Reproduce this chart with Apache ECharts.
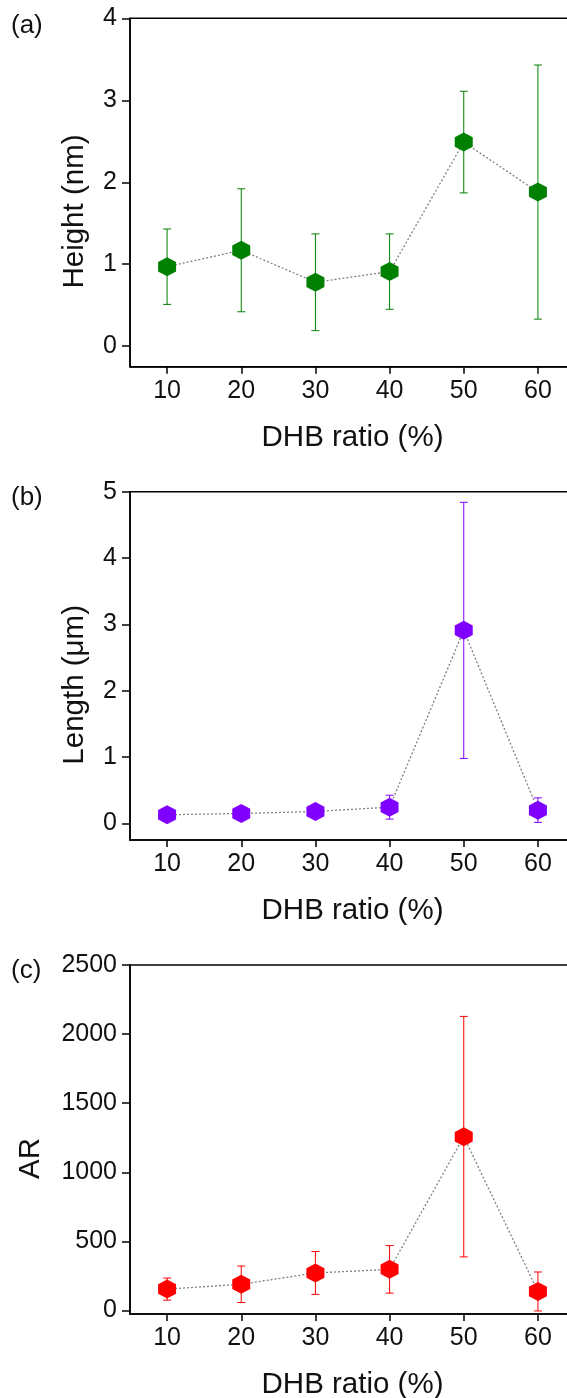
<!DOCTYPE html>
<html>
<head>
<meta charset="utf-8">
<script src="https://cdn.jsdelivr.net/npm/echarts@6/dist/echarts.min.js"></script>
<style>
  html, body { margin: 0; padding: 0; background: #fff; }
  #chart { width: 567px; height: 1398px; }
</style>
</head>
<body>
<div id="chart"></div>
<script>
// DHB ratio (%) on the shared x axis
const ratios = [10, 20, 30, 40, 50, 60];
const ratioTicks = [10, 20, 30, 40, 50, 60];

// (a) height (nm), mean and error
const heightNm = [0.97, 1.17, 0.78, 0.91, 2.49, 1.88];
const heightErr = [0.46, 0.75, 0.59, 0.46, 0.62, 1.55];
const heightTicks = [0, 1, 2, 3, 4];
const heightMinor = [0.5, 1.5, 2.5, 3.5];

// (b) length (µm), mean and error
const lengthUm = [0.13, 0.15, 0.18, 0.245, 2.91, 0.2];
const lengthErr = [0.06, 0.06, 0.06, 0.18, 1.93, 0.185];
const lengthTicks = [0, 1, 2, 3, 4, 5];
const lengthMinor = [0.5, 1.5, 2.5, 3.5, 4.5];

// (c) aspect ratio, mean and error
const aspectRatio = [155, 190, 272, 298, 1258, 138];
const aspectErr = [80, 132, 155, 172, 870, 141];
const arTicks = [0, 500, 1000, 1500, 2000, 2500];
const arMinor = [250, 750, 1250, 1750, 2250];

const FONT = "'Liberation Sans', Arial, sans-serif";
const HEX = 'path://M0,-1L0.866,-0.5L0.866,0.5L0,1L-0.866,0.5L-0.866,-0.5Z';

const panels = [
  { tag: '(a)', name: 'Height (nm)', vals: heightNm, errs: heightErr, ticks: heightTicks, minor: heightMinor,
    min: -0.25, max: 4, color: '#008000', top: 18.3, height: 348.4, nameGap: 40, tagTop: 13 },
  { tag: '(b)', name: 'Length (\u03bcm)', vals: lengthUm, errs: lengthErr, ticks: lengthTicks, minor: lengthMinor,
    min: -0.25, max: 5, color: '#7f00ff', top: 491.7, height: 348.3, nameGap: 40, tagTop: 484.5 },
  { tag: '(c)', name: 'AR', vals: aspectRatio, errs: aspectErr, ticks: arTicks, minor: arMinor,
    min: -25, max: 2500, color: '#ff0000', top: 965, height: 349, nameGap: 84, tagTop: 957.7 }
];

const axisLine = { show: true, onZero: false, lineStyle: { color: '#000', width: 1.5 } };

const option = {
  animation: false,
  backgroundColor: '#fff',
  title: panels.map(p => ({
    text: p.tag, left: 11, top: p.tagTop, padding: 0,
    textStyle: { fontFamily: FONT, fontSize: 26, fontWeight: 'normal', color: '#111' }
  })),
  // the frame runs past the right edge of the page, so only three sides show
  grid: panels.map(p => ({
    left: 130, width: 445, top: p.top, height: p.height,
    outerBoundsMode: 'none', containLabel: false,
    show: true, borderColor: '#000', borderWidth: 1.5, backgroundColor: 'transparent'
  })),
  xAxis: panels.map((p, i) => ({
    type: 'value', gridIndex: i, min: 5, max: 65,
    name: 'DHB ratio (%)', nameLocation: 'middle', nameGap: 56,
    nameTextStyle: { fontFamily: FONT, fontSize: 29.5, color: '#111' },
    axisLine,
    axisTick: { show: true, inside: false, length: 7, customValues: ratioTicks,
      lineStyle: { color: '#000', width: 1.5 } },
    axisLabel: { show: true, margin: 12, customValues: ratioTicks,
      fontFamily: FONT, fontSize: 25, color: '#111' },
    splitLine: { show: false }
  })),
  yAxis: panels.flatMap((p, i) => [
    {
      type: 'value', gridIndex: i, min: p.min, max: p.max,
      name: p.name, nameLocation: 'middle', nameGap: p.nameGap, nameRotate: 90,
      nameTextStyle: { fontFamily: FONT, fontSize: 29.5, color: '#111', padding: [0, 38, 0, 0] },
      axisLine,
      axisTick: { show: true, inside: false, length: 8, customValues: p.ticks,
        lineStyle: { color: '#000', width: 1.5 } },
      axisLabel: { show: true, margin: 13, customValues: p.ticks,
        formatter: v => String(v),
        fontFamily: FONT, fontSize: 25, color: '#111' },
      splitLine: { show: false }
    },
    {
      // minor ticks between the labelled values
      type: 'value', gridIndex: i, min: p.min, max: p.max,
      axisLine: { show: false },
      axisTick: { show: true, inside: false, length: 5, customValues: p.minor,
        lineStyle: { color: '#000', width: 1.5 } },
      axisLabel: { show: false },
      splitLine: { show: false }
    }
  ]),
  series: panels.flatMap((p, i) => {
    const pts = ratios.map((r, k) => [r, p.vals[k]]);
    const bars = ratios.map((r, k) => [r, p.vals[k], p.errs[k]]);
    return [
      {
        type: 'line', xAxisIndex: i, yAxisIndex: i * 2, data: pts,
        showSymbol: false, silent: true, z: 2,
        lineStyle: { color: '#808080', width: 1.3, type: [2, 2] }
      },
      {
        type: 'custom', xAxisIndex: i, yAxisIndex: i * 2, data: bars, z: 3, silent: true,
        encode: { x: 0, y: 1 },
        renderItem(params, api) {
          const x = api.value(0), y = api.value(1), e = api.value(2);
          const hi = api.coord([x, y + e]);
          const lo = api.coord([x, y - e]);
          const hw = 4;
          const st = { stroke: p.color, lineWidth: 1 };
          return {
            type: 'group',
            children: [
              { type: 'line', shape: { x1: hi[0], y1: hi[1], x2: lo[0], y2: lo[1] }, style: st },
              { type: 'line', shape: { x1: hi[0] - hw, y1: hi[1], x2: hi[0] + hw, y2: hi[1] }, style: st },
              { type: 'line', shape: { x1: lo[0] - hw, y1: lo[1], x2: lo[0] + hw, y2: lo[1] }, style: st }
            ]
          };
        }
      },
      {
        type: 'scatter', xAxisIndex: i, yAxisIndex: i * 2, data: pts, z: 4,
        symbol: HEX, symbolSize: [18, 19],
        itemStyle: { color: p.color, opacity: 1 }
      }
    ];
  })
};

const chart = echarts.init(document.getElementById('chart'), null, { renderer: 'canvas' });
chart.setOption(option);
</script>
</body>
</html>
